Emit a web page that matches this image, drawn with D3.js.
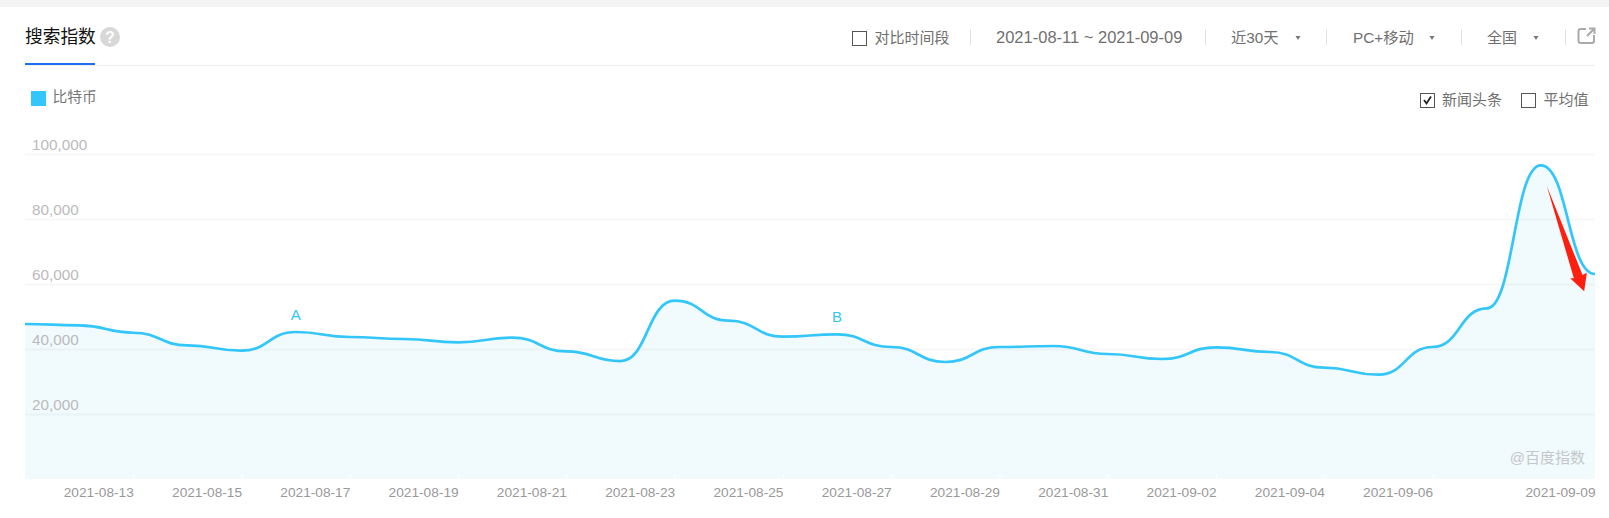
<!DOCTYPE html>
<html><head><meta charset="utf-8">
<script src="https://cdn.jsdelivr.net/npm/d3@7"></script>
<style>
html,body{margin:0;padding:0;background:#fff;overflow:hidden}
svg{display:block}
text{font-family:"Liberation Sans","Noto Sans CJK SC",sans-serif}
</style></head><body><svg id="c" width="1609" height="518"></svg>
<script>
const dates=["2021-08-11","2021-08-12","2021-08-13","2021-08-14","2021-08-15","2021-08-16","2021-08-17","2021-08-18","2021-08-19","2021-08-20","2021-08-21","2021-08-22","2021-08-23","2021-08-24","2021-08-25","2021-08-26","2021-08-27","2021-08-28","2021-08-29","2021-08-30","2021-08-31","2021-09-01","2021-09-02","2021-09-03","2021-09-04","2021-09-05","2021-09-06","2021-09-07","2021-09-08","2021-09-09"];
const values=[47700,47280,45000,41130,39480,45230,43690,43080,42050,43480,39280,36300,54860,48710,43790,44510,40620,36000,40620,40920,38460,36920,40520,39080,34250,32090,40620,52510,96520,63080];
const xTickLabels=["2021-08-13","2021-08-15","2021-08-17","2021-08-19","2021-08-21","2021-08-23","2021-08-25","2021-08-27","2021-08-29","2021-08-31","2021-09-02","2021-09-04","2021-09-06","2021-09-09"];
const yTicks=[20000,40000,60000,80000,100000];
const seriesName="比特币";
const noteLabels=["A","B"];
const noteDates=["2021-08-16","2021-08-26"];
const arrowDays=[28.11,28.61,28.54,28.80,28.85,28.77];
const arrowValues=[90150,61750,61750,57750,63480,62770];
const blue="#33c6fb";

const svg=d3.select("#c");
const x=d3.scalePoint().domain(dates).range([25,1595]);
const y=d3.scaleLinear().domain([0,100000]).range([479,154]);
const xd=d3.scaleLinear().domain([0,dates.length-1]).range([25,1595]);

// page furniture
svg.append("rect").attr("width",1609).attr("height",7).attr("fill","#f4f4f4");
svg.append("text").attr("x",25).attr("y",43).attr("font-size",17.7).attr("fill","#111").text("搜索指数");
svg.append("circle").attr("cx",110).attr("cy",37).attr("r",10).attr("fill","#d8d8d8");
svg.append("text").attr("x",110).attr("y",43).attr("text-anchor","middle").attr("font-size",16).attr("font-weight",700).attr("fill","#fff").text("?");
svg.append("rect").attr("x",25).attr("y",65).attr("width",1570).attr("height",1).attr("fill","#eeeeee");
svg.append("rect").attr("x",25).attr("y",63).attr("width",70).attr("height",2).attr("fill","#1e6ff0");

const ctl=(t,px,py,fs=15,fill="#707070")=>svg.append("text").attr("x",px).attr("y",py).attr("font-size",fs).attr("fill",fill).text(t);
const box=(px,py,s=14)=>svg.append("rect").attr("x",px+.5).attr("y",py+.5).attr("width",s).attr("height",s).attr("fill","#fff").attr("stroke","#555").attr("stroke-width",1);
const sep=px=>svg.append("rect").attr("x",px).attr("y",29).attr("width",1).attr("height",16).attr("fill","#e2e2e2");
const tri=(cx,cy)=>svg.append("path").attr("d",`M${cx-2.5},${cy-2}L${cx+2.5},${cy-2}L${cx},${cy+2}Z`).attr("fill","#777");

box(852,31);
ctl("对比时间段",874.5,43);
sep(970);
ctl("2021-08-11 ~ 2021-09-09",996,43,16.5);
sep(1205);
ctl("近30天",1231,43,15.3);
tri(1298,38);
sep(1326);
ctl("PC+移动",1353,43,15.3);
tri(1432,38);
sep(1461);
ctl("全国",1487,43);
tri(1536,38);
sep(1565);
svg.append("path").attr("d","M1586,29H1580.5Q1578.5,29 1578.5,31V41Q1578.5,43 1580.5,43H1592Q1594,43 1594,41V35M1587,36L1594,29M1589,28.5H1594.5V34").attr("fill","none").attr("stroke","#aaa").attr("stroke-width",2);

box(1420,93);
svg.append("path").attr("d","M1424,100L1426.5,103.5L1431,96.5").attr("fill","none").attr("stroke","#222").attr("stroke-width",1.8);
ctl("新闻头条",1442,104.5);
box(1521,93);
ctl("平均值",1543.5,104.5);

// legend
svg.append("rect").attr("x",31).attr("y",91).attr("width",15).attr("height",15).attr("fill",blue);
ctl(seriesName,52.5,102,14.7,"#777");

// area + line
const area=d3.area().x((d,i)=>x(dates[i])).y0(y(0)).y1(d=>y(d)).curve(d3.curveBumpX);
const line=d3.line().x((d,i)=>x(dates[i])).y(d=>y(d)).curve(d3.curveBumpX);
svg.append("path").datum(values).attr("d",area).attr("fill","#f1fafd");

// grid + y labels
const yAxis=svg.append("g").attr("transform","translate(25,0)")
  .call(d3.axisRight(y).tickValues(yTicks).tickSize(1570).tickFormat(d3.format(",")));
yAxis.select(".domain").remove();
yAxis.selectAll("line").attr("stroke","rgba(0,0,0,0.03)").attr("stroke-width",2);
yAxis.selectAll("text").attr("x",7).attr("dy",0).attr("y",-5).attr("text-anchor","start")
  .attr("font-size",15.3).attr("fill","#bbbbbb").style("font-family",'"Liberation Sans",sans-serif');

svg.append("path").datum(values).attr("d",line).attr("fill","none").attr("stroke",blue).attr("stroke-width",2.7);

// x axis
const xAxis=svg.append("g").attr("transform","translate(0,479)")
  .call(d3.axisBottom(x).tickValues(xTickLabels).tickSize(-5).tickPadding(0));
xAxis.select(".domain").remove();
xAxis.selectAll("line").attr("stroke","#fff").attr("stroke-width",1);
xAxis.selectAll("text").attr("text-anchor","end").attr("y",18).attr("dy",0)
  .attr("font-size",13.7).attr("fill","#999").style("font-family",'"Liberation Sans",sans-serif');

// annotations
svg.selectAll(".note").data(noteLabels).join("text").attr("class","note")
  .attr("x",(d,i)=>x(noteDates[i])).attr("y",(d,i)=>i?322:320)
  .attr("text-anchor","middle").attr("font-size",15).attr("fill",blue).text(d=>d);
svg.append("text").attr("x",1585).attr("y",463).attr("text-anchor","end").attr("font-size",15).attr("fill","#c4c8ca").text("@百度指数");

// red arrow
svg.append("path").datum(arrowDays.map((d,i)=>[xd(d),y(arrowValues[i])]))
  .attr("d",d=>d3.line()(d)+"Z").attr("fill","#ff1f0f");
</script></body></html>
